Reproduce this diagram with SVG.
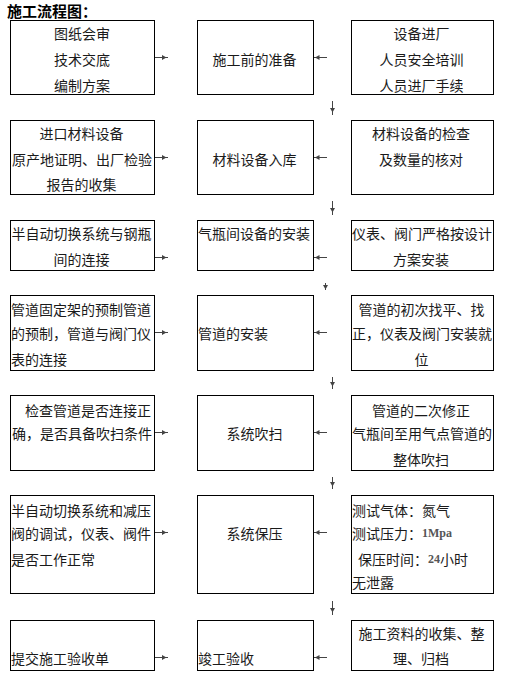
<svg xmlns="http://www.w3.org/2000/svg" width="505" height="681" viewBox="0 0 505 681">
<style>
.box{fill:#fff;stroke:#000;stroke-width:1}
text{font-family:"Noto Sans CJK SC","Noto Sans",sans-serif;font-size:14px;fill:#1a1a1a;dominant-baseline:central}
.c{text-anchor:middle}
.t{font-size:15px;font-weight:bold;fill:#000}
.n{font-family:"Liberation Serif",serif;font-size:12px;font-weight:bold;fill:#555}
.ln{stroke:#444;stroke-width:1;fill:none}
.ah{fill:#444}
</style>
<rect width="505" height="681" fill="#fff"/>
<text class="t" x="7" y="10">施工流程图：</text>

<g id="n1a"><rect class="box" x="10.5" y="20.5" width="144" height="74"/>
<text class="c" x="82" y="33">图纸会审</text><text class="c" x="82" y="59">技术交底</text><text class="c" x="82" y="85">编制方案</text></g>
<g id="n1b"><rect class="box" x="197.5" y="20.5" width="116" height="74"/>
<text class="c" x="254.5" y="59">施工前的准备</text></g>
<g id="n1c"><rect class="box" x="351.5" y="20.5" width="142" height="74"/>
<text class="c" x="421.5" y="33">设备进厂</text><text class="c" x="421.5" y="59">人员安全培训</text><text class="c" x="421.5" y="85">人员进厂手续</text></g>

<g id="n2a"><rect class="box" x="10.5" y="120.5" width="144" height="74"/>
<text class="c" x="81.5" y="133">进口材料设备</text><text class="c" x="82" y="159">原产地证明、出厂检验</text><text class="c" x="81.5" y="184">报告的收集</text></g>
<g id="n2b"><rect class="box" x="197.5" y="120.5" width="116" height="74"/>
<text class="c" x="254.5" y="159">材料设备入库</text></g>
<g id="n2c"><rect class="box" x="351.5" y="120.5" width="142" height="74"/>
<text class="c" x="421" y="133">材料设备的检查</text><text class="c" x="421" y="159">及数量的核对</text></g>

<g id="n3a"><rect class="box" x="10.5" y="220.5" width="144" height="50"/>
<text class="c" x="81.5" y="233">半自动切换系统与钢瓶</text><text class="c" x="81.5" y="259">间的连接</text></g>
<g id="n3b"><rect class="box" x="197.5" y="220.5" width="116" height="50"/>
<text x="198" y="233">气瓶间设备的安装</text></g>
<g id="n3c"><rect class="box" x="351.5" y="220.5" width="142" height="50"/>
<text class="c" x="422" y="233">仪表、阀门严格按设计</text><text class="c" x="421" y="259">方案安装</text></g>

<g id="n4a"><rect class="box" x="10.5" y="295.5" width="144" height="75"/>
<text x="11" y="309">管道固定架的预制管道</text><text x="11" y="333">的预制，管道与阀门仪</text><text x="11" y="359">表的连接</text></g>
<g id="n4b"><rect class="box" x="197.5" y="295.5" width="116" height="75"/>
<text x="198" y="333">管道的安装</text></g>
<g id="n4c"><rect class="box" x="351.5" y="295.5" width="142" height="75"/>
<text class="c" x="421.5" y="309">管道的初次找平、找</text><text x="352" y="333">正，仪表及阀门安装就</text><text class="c" x="421.5" y="359">位</text></g>

<g id="n5a"><rect class="box" x="10.5" y="395.5" width="144" height="75"/>
<text x="25" y="410">检查管道是否连接正</text><text x="12" y="433">确，是否具备吹扫条件</text></g>
<g id="n5b"><rect class="box" x="197.5" y="395.5" width="116" height="75"/>
<text class="c" x="254.5" y="433">系统吹扫</text></g>
<g id="n5c"><rect class="box" x="351.5" y="395.5" width="142" height="75"/>
<text class="c" x="421" y="410">管道的二次修正</text><text x="352" y="433">气瓶间至用气点管道的</text><text class="c" x="421" y="459">整体吹扫</text></g>

<g id="n6a"><rect class="box" x="10.5" y="495.5" width="144" height="98"/>
<text x="11" y="510">半自动切换系统和减压</text><text x="11" y="533">阀的调试，仪表、阀件</text><text x="11" y="559">是否工作正常</text></g>
<g id="n6b"><rect class="box" x="197.5" y="495.5" width="116" height="98"/>
<text class="c" x="254.5" y="533">系统保压</text></g>
<g id="n6c"><rect class="box" x="351.5" y="495.5" width="142" height="98"/>
<text x="352" y="510">测试气体：氮气</text>
<text x="352" y="533">测试压力：<tspan class="n">1Mpa</tspan></text>
<text x="358" y="559">保压时间：<tspan class="n">24</tspan>小时</text>
<text x="352" y="582">无泄露</text></g>

<g id="n7a"><rect class="box" x="10.5" y="620.5" width="144" height="50"/>
<text x="11" y="658">提交施工验收单</text></g>
<g id="n7b"><rect class="box" x="197.5" y="620.5" width="116" height="50"/>
<text x="198" y="658">竣工验收</text></g>
<g id="n7c"><rect class="box" x="351.5" y="620.5" width="142" height="50"/>
<text class="c" x="421.5" y="633">施工资料的收集、整</text><text class="c" x="421" y="658">理、归档</text></g>

<g id="connectors">
<g id="h-right">
<path class="ln" d="M155,57.5H168M155,157.5H168M155,257.5H168M155,332.5H168M155,432.5H168M155,532.5H168M155,657.5H168"/>
<path class="ah" d="M162,55L166.5,57.5L162,60ZM162,155L166.5,157.5L162,160ZM162,255L166.5,257.5L162,260ZM162,330L166.5,332.5L162,335ZM162,430L166.5,432.5L162,435ZM162,530L166.5,532.5L162,535ZM162,655L166.5,657.5L162,660Z"/>
</g>
<g id="h-left">
<path class="ln" d="M314,57.5H327M314,157.5H327M314,257.5H327M314,332.5H327M314,432.5H327M314,532.5H327M314,657.5H327"/>
<path class="ah" d="M319.5,55L315,57.5L319.5,60ZM319.5,155L315,157.5L319.5,160ZM319.5,255L315,257.5L319.5,260ZM319.5,330L315,332.5L319.5,335ZM319.5,430L315,432.5L319.5,435ZM319.5,530L315,532.5L319.5,535ZM319.5,655L315,657.5L319.5,660Z"/>
</g>
<g id="v-down">
<path class="ln" d="M332.5,101V115M332.5,201V215M325.5,283V290M332.5,377V389M332.5,477V489M332.5,601V615"/>
<path class="ah" d="M330,108L332.5,112.5L335,108ZM330,208L332.5,212.5L335,208ZM323,285L325.5,289.5L328,285ZM330,382L332.5,386.5L335,382ZM330,482L332.5,486.5L335,482ZM330,608L332.5,612.5L335,608Z"/>
</g>
</g>
</svg>
